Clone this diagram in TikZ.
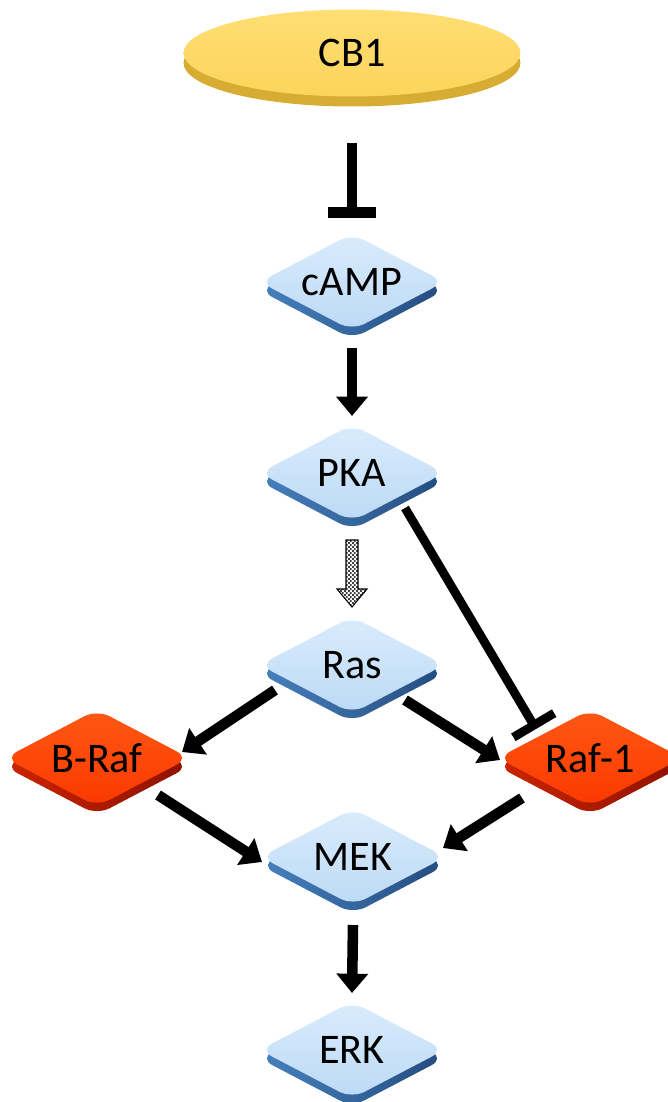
\documentclass[tikz,border=0pt]{standalone}
\usepackage{fontspec}
\setmainfont{Carlito}
\usetikzlibrary{shapes.geometric,shadows,arrows.meta,patterns}

\definecolor{bluetop}{RGB}{218,236,252}
\definecolor{blueface}{RGB}{188,217,245}
\definecolor{blueedge}{RGB}{70,128,190}
\definecolor{blueedgedark}{RGB}{36,76,126}
\definecolor{redtop}{RGB}{255,88,20}
\definecolor{redface}{RGB}{250,56,0}
\definecolor{rededge}{RGB}{205,36,0}
\definecolor{rededgedark}{RGB}{140,18,0}
\definecolor{cbtop}{RGB}{255,222,115}
\definecolor{cbface}{RGB}{252,212,92}
\definecolor{cbedge}{RGB}{214,172,50}

% fine checker for the indirect arrow
\pgfdeclarepatternformonly{finechecker}{\pgfpointorigin}{\pgfqpoint{2.2pt}{2.2pt}}{\pgfqpoint{2.2pt}{2.2pt}}{%
  \pgfpathrectangle{\pgfpointorigin}{\pgfqpoint{1.1pt}{1.1pt}}%
  \pgfpathrectangle{\pgfqpoint{1.1pt}{1.1pt}}{\pgfqpoint{1.1pt}{1.1pt}}%
  \pgfusepath{fill}}

\begin{document}
\begin{tikzpicture}[x=0.02cm, y=-0.02cm,
    molecule/.style={diamond, aspect=2, minimum width=3.7cm, minimum height=1.94cm,
      inner sep=0pt, rounded corners=8pt, font=\fontsize{24}{28}\selectfont},
    kinase/.style={molecule, top color=bluetop, bottom color=blueface,
      general shadow={shadow yshift=-0.17cm, left color=blueedge, right color=blueedgedark}},
    rafbox/.style={molecule, top color=redtop, bottom color=redface,
      general shadow={shadow yshift=-0.17cm, left color=rededge, right color=rededgedark}},
    act/.style={line width=6pt, -{Triangle[length=11pt, width=17.5pt]}},
    inhib/.style={line width=6pt, -{Bar[width=27pt]}},
    dotarrow/.style={draw=black, line width=0.6pt, pattern=finechecker, pattern color=black!75},
  ]
  \useasboundingbox (0,0) rectangle (667,1102);

  % --- Receptor ---
  \node[ellipse, minimum width=6.74cm, minimum height=1.74cm, inner sep=0pt,
    top color=cbtop, bottom color=cbface,
    general shadow={shadow yshift=-0.2cm, fill=cbedge},
    font=\fontsize{24}{28}\selectfont] (cb1) at (352,53) {CB1};

  % --- Signalling cascade ---
  \node[kinase] (camp) at (352,282) {cAMP};
  \node[kinase] (pka)  at (352,473) {PKA};
  \node[kinase] (ras)  at (352,665) {Ras};
  \node[rafbox] (braf) at (97,758)  {B-Raf};
  \node[rafbox] (raf1) at (590,758) {Raf-1};
  \node[kinase] (mek)  at (353,857) {MEK};
  \node[kinase] (erk)  at (352,1050) {ERK};

  % --- Inhibitions ---
  \draw[inhib] ([shift={(0,90)}]cb1.center) -- ([shift={(0,-64)}]camp.center);
  \draw[inhib, line width=5pt] ([shift={(53,35)}]pka.center) -- ([shift={(-54,-29)}]raf1.center);

  % --- Activations ---
  \draw[act] ([shift={(0,66)}]camp.center) -- ([shift={(0,-57)}]pka.center);
  \draw[act] ([shift={(-77,25)}]ras.center) -- ([shift={(85,-6)}]braf.center);
  \draw[act] ([shift={(53,35)}]ras.center) -- ([shift={(-90,2)}]raf1.center);
  \draw[act] ([shift={(61,37)}]braf.center) -- ([shift={(-91,5)}]mek.center);
  \draw[act] ([shift={(-68,40)}]raf1.center) -- ([shift={(90,-9)}]mek.center);
  \draw[act] ([shift={(0,68)}]mek.center) -- ([shift={(0,-57)}]erk.center);

  % --- Indirect activation (checkered block arrow) ---
  \draw[dotarrow] ([shift={(-6,67)}]pka.center) -- ++(12,0) -- ++(0,49) -- ++(9,0)
    -- ++(-15,18) -- ++(-15,-18) -- ++(9,0) -- cycle;
\end{tikzpicture}
\end{document}
